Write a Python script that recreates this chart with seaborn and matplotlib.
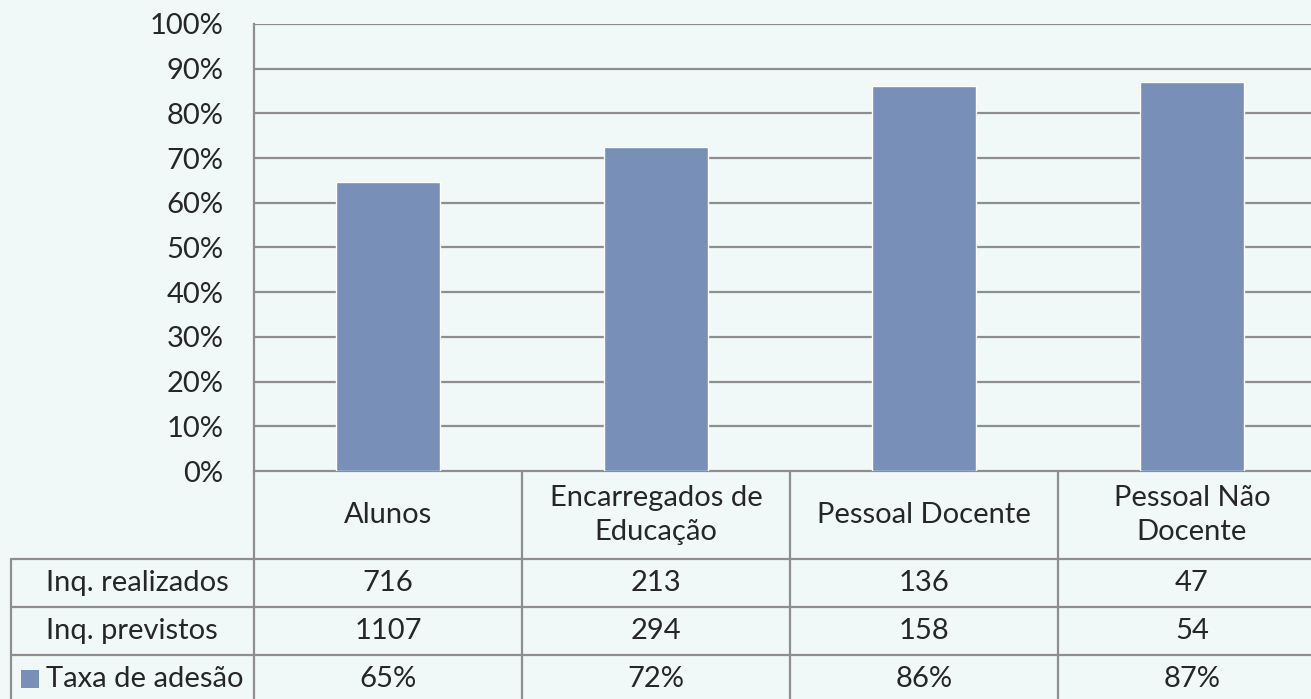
import pandas as pd
import matplotlib.pyplot as plt
import seaborn as sns
from matplotlib.patches import Rectangle

# Chart data
categories = ["Alunos", "Encarregados de Educação", "Pessoal Docente", "Pessoal Não Docente"]
header_labels = ["Alunos", "Encarregados de\nEducação", "Pessoal Docente", "Pessoal Não\nDocente"]
inq_realizados = [716, 213, 136, 47]
inq_previstos = [1107, 294, 158, 54]
taxa_adesao = [0.647, 0.724, 0.861, 0.870]
row_labels = ["Inq. realizados", "Inq. previstos", "Taxa de adesão"]

bg = "#F0F8F8"
bar_color = "#7890B8"
line_color = "#8E8E8E"
fs = 21

sns.set_style("white")
plt.rcParams['font.family'] = ['Lato', 'DejaVu Sans']

df = pd.DataFrame({"Categoria": categories, "Taxa": taxa_adesao})

fig = plt.figure(figsize=(13.11, 6.99), dpi=100, facecolor=bg)
W, H = 1311, 699
left, right, top, bottom = 254, 1326, 24, 471
ax = fig.add_axes([left / W, 1 - bottom / H, (right - left) / W, (bottom - top) / H])
ax.set_facecolor(bg)

sns.barplot(data=df, x="Categoria", y="Taxa", color=bar_color, width=0.39,
            saturation=1, ax=ax, zorder=3)

ax.set_ylim(0, 1)
ax.set_xlim(-0.5, 3.5)
ticks = [i / 10 for i in range(11)]
ax.set_yticks(ticks)
ax.set_yticklabels([f"{int(round(t * 100))}%" for t in ticks], fontsize=fs)
ax.set_xticks([])
ax.set_xlabel("")
ax.set_ylabel("")
ax.tick_params(axis="y", length=0, pad=22)
for t in ticks[1:]:
    ax.axhline(t, color=line_color, lw=1.6, zorder=1)
for s in ["top", "right", "bottom"]:
    ax.spines[s].set_visible(False)
ax.spines["left"].set_color(line_color)
ax.spines["left"].set_linewidth(1.6)

# Data table below the chart (pixel positions -> axes coords)
ph = bottom - top
pw = right - left
def ay(py):
    return (bottom - py) / ph
def ax_x(px):
    return (px - left) / pw

row_lines = [559, 607, 655, 703]
tab_left = ax_x(11)
lk = dict(color=line_color, lw=1.6, clip_on=False, transform=ax.transAxes)

# horizontal lines
ax.plot([0, 1], [0, 0], **lk)
for r in row_lines:
    ax.plot([tab_left, 1], [ay(r), ay(r)], **lk)
# vertical lines
ax.plot([0, 0], [0, ay(row_lines[-1])], **lk)
ax.plot([tab_left, tab_left], [ay(row_lines[0]), ay(row_lines[-1])], **lk)
for i in range(1, 4):
    xv = i / 4
    ax.plot([xv, xv], [0, ay(row_lines[-1])], **lk)

# header text
for i, lab in enumerate(header_labels):
    ax.text((i + 0.5) / 4, ay((bottom + row_lines[0]) / 2), lab, transform=ax.transAxes,
            ha="center", va="center", fontsize=fs, linespacing=1.4)

# rows
row_values = [
    [str(v) for v in inq_realizados],
    [str(v) for v in inq_previstos],
    [f"{round(v * 100):.0f}%" for v in taxa_adesao],
]
for r, (lab, vals) in enumerate(zip(row_labels, row_values)):
    ytop, ybot = row_lines[r], row_lines[r + 1]
    yc = ay((ytop + ybot) / 2)
    ax.text(ax_x(46), yc, lab, transform=ax.transAxes, ha="left", va="center", fontsize=fs)
    for i, v in enumerate(vals):
        ax.text((i + 0.5) / 4, yc, v, transform=ax.transAxes, ha="center", va="center", fontsize=fs)

# legend key for the series row
ax.add_patch(Rectangle((ax_x(21), ay(688)), 18 / pw, 18 / ph, transform=ax.transAxes,
                       facecolor=bar_color, edgecolor="none", clip_on=False))

fig.savefig("out.png", dpi=100, facecolor=bg)
